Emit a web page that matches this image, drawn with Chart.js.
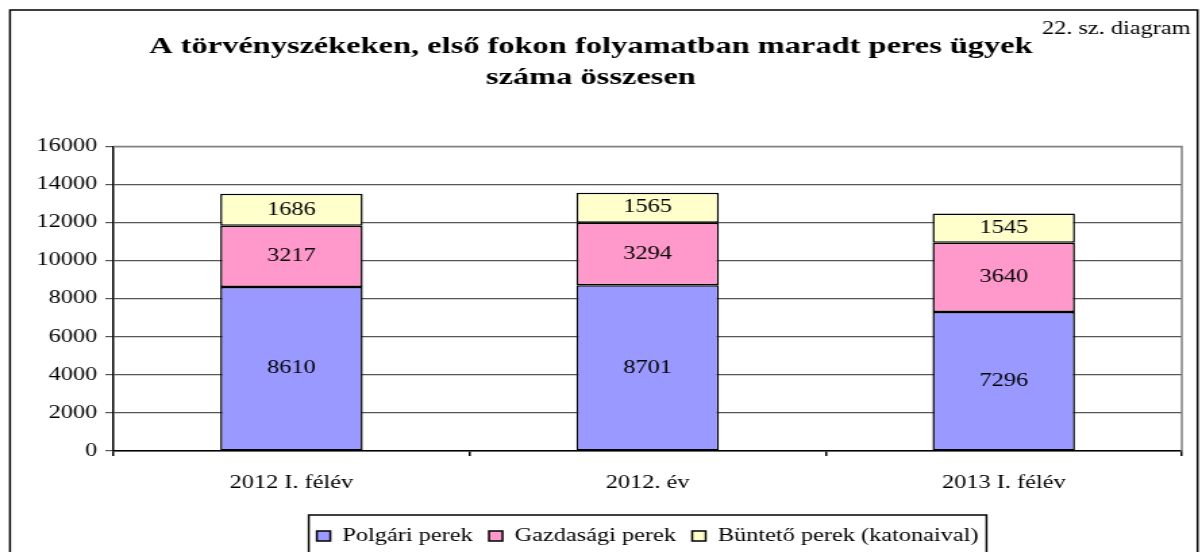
<!DOCTYPE html>
<html>
<head>
<meta charset="utf-8">
<script src="https://cdn.jsdelivr.net/npm/chart.js@4"></script>
<style>
  html, body { margin: 0; padding: 0; background: #fff; overflow: hidden; }
  /* the original picture is stretched sideways, so the chart box is too */
  #box { width: 890px; height: 555px; transform: scaleX(1.3506); transform-origin: 0 0; }
</style>
</head>
<body>
<div id="box"><canvas id="graph"></canvas></div>
<script>
var categories = ["2012 I. félév", "2012. év", "2013 I. félév"];
var polgari = [8610, 8701, 7296];
var gazdasagi = [3217, 3294, 3640];
var bunteto = [1686, 1565, 1545];
var seriesNames = ["Polgári perek", "Gazdasági perek", "Büntető perek (katonaival)"];
var yMax = 16000;
var yStep = 2000;

var serif = "'Liberation Serif', 'Times New Roman', serif";

// frame round the whole chart, the small note top right and the plot border
var framePlugin = {
  id: 'frame',
  beforeDraw: function (chart) {
    var c = chart.ctx;
    c.save();
    c.fillStyle = '#fff';
    c.fillRect(0, 0, chart.width, chart.height);
    c.strokeStyle = '#000';
    c.lineWidth = 1.5;
    c.strokeRect(7.4, 10, 879.3, chart.height + 10);
    c.fillStyle = '#000';
    c.font = '18px ' + serif;
    c.textAlign = 'right';
    c.textBaseline = 'alphabetic';
    c.fillText('22. sz. diagram', 881.5, 34);
    c.restore();
  },
  afterDraw: function (chart) {
    var a = chart.chartArea;
    var c = chart.ctx;
    c.save();
    c.strokeStyle = '#808080';
    c.lineWidth = 1.5;
    c.beginPath();
    c.moveTo(a.left, a.top);
    c.lineTo(a.right, a.top);
    c.lineTo(a.right, a.bottom);
    c.stroke();
    // box round the legend
    var lg = chart.legend;
    if (lg && lg.legendHitBoxes.length) {
      var l = Infinity, r = -Infinity;
      lg.legendHitBoxes.forEach(function (h) {
        l = Math.min(l, h.left);
        r = Math.max(r, h.left + h.width);
      });
      c.strokeStyle = '#000';
      c.strokeRect(l - 6, lg.top, r - l + 12, lg.bottom - lg.top + 4);
    }
    c.restore();
  }
};

// value written in the middle of each bar piece
var valuePlugin = {
  id: 'values',
  afterDatasetsDraw: function (chart) {
    var c = chart.ctx;
    c.save();
    c.fillStyle = '#000';
    c.font = '18px ' + serif;
    c.textAlign = 'center';
    c.textBaseline = 'middle';
    chart.data.datasets.forEach(function (ds, i) {
      chart.getDatasetMeta(i).data.forEach(function (bar, j) {
        var p = bar.getCenterPoint();
        c.fillText(ds.data[j], p.x, p.y);
      });
    });
    c.restore();
  }
};

var ctx = document.getElementById('graph').getContext('2d');
var chart = new Chart(ctx, {
  type: 'bar',
  data: {
    labels: categories,
    datasets: [{
      label: seriesNames[0],
      data: polgari,
      backgroundColor: '#9999FF'
    }, {
      label: seriesNames[1],
      data: gazdasagi,
      backgroundColor: '#FF99CC'
    }, {
      label: seriesNames[2],
      data: bunteto,
      backgroundColor: '#FFFFCC'
    }]
  },
  options: {
    responsive: true,
    maintainAspectRatio: false,
    animation: false,
    events: [],
    layout: { padding: { left: 0, right: 15, top: 14, bottom: 0 } },
    datasets: {
      bar: {
        borderColor: '#000',
        borderWidth: 1.5,
        borderSkipped: false,
        categoryPercentage: 1,
        barPercentage: 0.4
      }
    },
    scales: {
      x: {
        stacked: true,
        offset: true,
        grid: { display: true, offset: true, drawOnChartArea: false, tickLength: 5, color: '#000', lineWidth: 1.5 },
        border: { display: true, color: '#000', width: 1.5 },
        ticks: { color: '#000', font: { family: serif, size: 18 }, padding: 16 },
        afterFit: function (s) { s.height = 64; }
      },
      y: {
        stacked: true,
        min: 0,
        max: yMax,
        ticks: {
          stepSize: yStep,
          color: '#000',
          font: { family: serif, size: 18 },
          padding: 6,
          callback: function (v) { return String(v); }
        },
        grid: { color: '#555', lineWidth: 1.2, tickLength: 6 },
        border: { display: true, color: '#000', width: 1.5 },
        afterFit: function (s) { s.width = 84; }
      }
    },
    plugins: {
      title: {
        display: true,
        text: ["A törvényszékeken, első fokon folyamatban maradt peres ügyek", "száma összesen"],
        color: '#000',
        font: { family: serif, size: 24, weight: 'bold', lineHeight: 1.3 },
        padding: { top: 17, bottom: 53 }
      },
      legend: {
        position: 'bottom',
        fullSize: false,
        labels: {
          color: '#000',
          font: { family: serif, size: 18 },
          boxWidth: 10,
          boxHeight: 10,
          padding: 12,
          useBorderRadius: false
        }
      },
      tooltip: { enabled: false }
    }
  },
  plugins: [framePlugin, valuePlugin]
});
</script>
</body>
</html>
